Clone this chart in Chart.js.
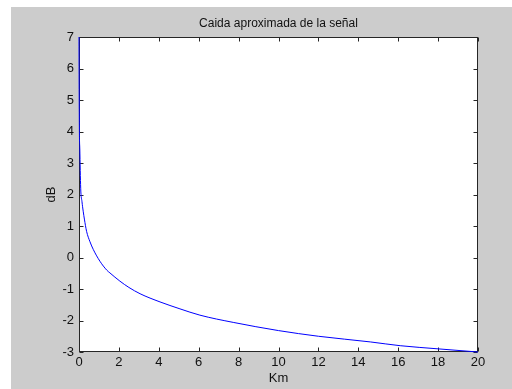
<!DOCTYPE html>
<html>
<head>
<meta charset="utf-8">
<script src="https://cdn.jsdelivr.net/npm/chart.js@4.4.1/dist/chart.umd.min.js"></script>
<style>
    html, body { margin: 0; padding: 0; background: #fff; }
    #wrap { width: 512px; height: 389px; }
</style>
</head>
<body>
<div id="wrap"><canvas id="lossChart" width="512" height="389"></canvas></div>
<script>
// Data (distance in Km, level in dB)
const kmValues = [0, 0.005, 0.02, 0.04, 0.085, 0.15, 0.21, 0.27, 0.38, 0.55, 0.72, 1.05, 1.39, 1.55, 2.05, 2.5, 3.06, 4.06, 5.06, 6.06, 7.73, 10, 12, 14.6, 16.1, 18, 20];
const dbValues = [7, 5.8, 4.0, 3.45, 2.2, 1.77, 1.47, 1.22, 0.83, 0.5, 0.25, -0.12, -0.4, -0.49, -0.75, -0.95, -1.15, -1.41, -1.63, -1.83, -2.06, -2.32, -2.5, -2.68, -2.8, -2.9, -3.0];

// Axis ticks
const xTicks = [0, 2, 4, 6, 8, 10, 12, 14, 16, 18, 20];
const yTicks = [-3, -2, -1, 0, 1, 2, 3, 4, 5, 6, 7];

const chartTitle = 'Caida aproximada de la señal';
const xTitle = 'Km';
const yTitle = 'dB';

const FONT = "'Liberation Sans', Arial, sans-serif";
const TEXT_COLOR = '#111111';
const TICK_LEN = 4;

/**
 * Gray figure background, white axes box, inner ticks on all four sides
 */
const matlabFrame = {
    id: 'matlabFrame',
    beforeDraw(chart) {
        const { ctx, chartArea: a, width, height } = chart;
        ctx.save();
        ctx.fillStyle = '#ffffff';
        ctx.fillRect(0, 0, width, height);
        ctx.fillStyle = '#cccccc';
        ctx.fillRect(11, 7, width - 11, height - 7);
        ctx.fillStyle = '#ffffff';
        ctx.fillRect(a.left, a.top, a.right - a.left, a.bottom - a.top);
        ctx.restore();
    },
    beforeDatasetsDraw(chart) {
        const { ctx, chartArea: a, scales } = chart;
        const l = a.left + 0.5, r = a.right - 0.5, t = a.top + 0.5, b = a.bottom - 0.5;
        ctx.save();
        ctx.strokeStyle = '#262626';
        ctx.lineWidth = 1;
        ctx.beginPath();
        xTicks.forEach(v => {
            const px = Math.round(scales.x.getPixelForValue(v)) + 0.5;
            ctx.moveTo(px, b); ctx.lineTo(px, b - TICK_LEN);
            ctx.moveTo(px, t); ctx.lineTo(px, t + TICK_LEN);
        });
        yTicks.forEach(v => {
            const py = Math.round(scales.y.getPixelForValue(v)) + 0.5;
            ctx.moveTo(l, py); ctx.lineTo(l + TICK_LEN, py);
            ctx.moveTo(r, py); ctx.lineTo(r - TICK_LEN, py);
        });
        ctx.stroke();
        ctx.strokeRect(l, t, r - l, b - t);
        ctx.restore();
    }
};

function createLossChart() {
    const ctx = document.getElementById('lossChart');

    return new Chart(ctx, {
        type: 'scatter',
        data: {
            datasets: [{
                data: kmValues.map((km, i) => ({ x: km, y: dbValues[i] })),
                showLine: true,
                borderColor: '#0000ff',
                borderWidth: 1,
                pointRadius: 0,
                cubicInterpolationMode: 'monotone',
                clip: false,
                fill: false
            }]
        },
        options: {
            responsive: false,
            animation: false,
            layout: {
                padding: { left: 0, right: 34, top: 0, bottom: 0 }
            },
            plugins: {
                legend: { display: false },
                tooltip: { enabled: false },
                title: {
                    display: true,
                    text: chartTitle,
                    fullSize: false,
                    color: TEXT_COLOR,
                    font: { family: FONT, size: 12, weight: 'normal' },
                    padding: { top: 16.5, bottom: 6.1 }
                }
            },
            scales: {
                x: {
                    type: 'linear',
                    min: 0,
                    max: 20,
                    grid: { display: false, drawTicks: false },
                    border: { display: false },
                    afterBuildTicks: scale => { scale.ticks = xTicks.map(v => ({ value: v })); },
                    afterFit: scale => { scale.height = 37; },
                    ticks: {
                        padding: 3,
                        color: TEXT_COLOR,
                        font: { family: FONT, size: 13 }
                    },
                    title: {
                        display: true,
                        text: xTitle,
                        color: TEXT_COLOR,
                        font: { family: FONT, size: 13 },
                        padding: { top: 0, bottom: 3 }
                    }
                },
                y: {
                    type: 'linear',
                    min: -3,
                    max: 7,
                    grid: { display: false, drawTicks: false },
                    border: { display: false },
                    afterBuildTicks: scale => { scale.ticks = yTicks.map(v => ({ value: v })); },
                    afterFit: scale => { scale.width = 79; },
                    ticks: {
                        padding: 5,
                        color: TEXT_COLOR,
                        font: { family: FONT, size: 13 }
                    },
                    title: {
                        display: true,
                        text: yTitle,
                        color: TEXT_COLOR,
                        font: { family: FONT, size: 13 },
                        padding: { top: 44, bottom: 0 }
                    }
                }
            }
        },
        plugins: [matlabFrame]
    });
}

createLossChart();
</script>
</body>
</html>
